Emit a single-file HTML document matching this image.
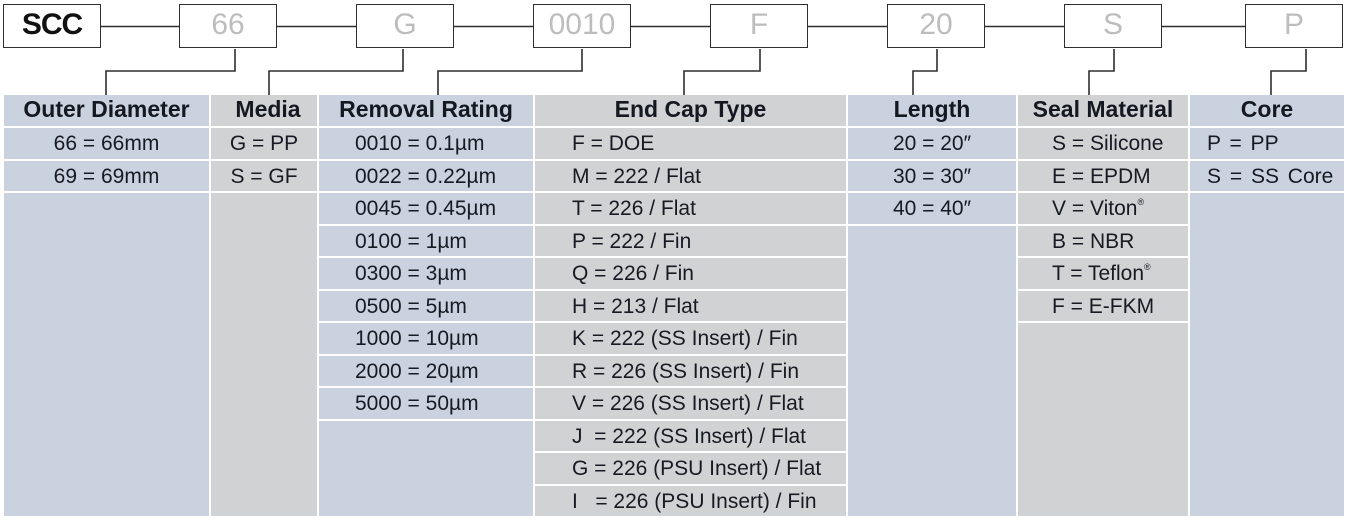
<!DOCTYPE html>
<html>
<head>
<meta charset="utf-8">
<style>
  html, body { margin:0; padding:0; background:#ffffff; }
  body { width:1347px; height:520px; position:relative; overflow:hidden;
         font-family:"Liberation Sans", "DejaVu Sans", sans-serif; color:#161a22; }
  .box { position:absolute; top:4px; width:96px; height:42px; border:1.5px solid #2e2e2e;
         background:#fff; text-align:center; line-height:40px; font-size:30px; color:#bdbdbd; }
  .box.scc { color:#111; font-weight:bold; letter-spacing:-1px; }
  .c { position:absolute; box-sizing:border-box; }
  .b { background:#cbd2df; }
  .g { background:#d1d2d4; }
  .h { top:95px; height:31px; font-weight:bold; font-size:23px; line-height:28px; text-align:center; color:#141820; }
  .d { height:30.5px; font-size:21px; line-height:31px; white-space:nowrap; }
  .ctr { text-align:center; }
  sup { font-size:9px; vertical-align:10px; line-height:0; }
  svg { position:absolute; left:0; top:0; }
</style>
</head>
<body>
<svg width="1347" height="520">
  <g stroke="#2e2e2e" stroke-width="1.6" fill="none">
    <line x1="101" y1="26.5" x2="1246" y2="26.5"/>
    <polyline points="235,49 235,71 106,71 106,95"/>
    <polyline points="403,49 403,71 269,71 269,95"/>
    <polyline points="582,49 582,71 438,71 438,95"/>
    <polyline points="760,49 760,71 684,71 684,95"/>
    <polyline points="937,49 937,71 913,71 913,95"/>
    <polyline points="1114,49 1114,71 1089,71 1089,95"/>
    <polyline points="1306,49 1306,71 1271,71 1271,95"/>
  </g>
</svg>

<div class="box scc" style="left:3px;">SCC</div>
<div class="box" style="left:179px;">66</div>
<div class="box" style="left:356px;">G</div>
<div class="box" style="left:533px;">0010</div>
<div class="box" style="left:710px;">F</div>
<div class="box" style="left:887px;">20</div>
<div class="box" style="left:1064px;">S</div>
<div class="box" style="left:1245px;">P</div>

<!-- Headers -->
<div class="c b h" style="left:4px;width:205px;">Outer Diameter</div>
<div class="c g h" style="left:211px;width:106px;padding-left:8px;">Media</div>
<div class="c b h" style="left:319px;width:214px;">Removal Rating</div>
<div class="c g h" style="left:535px;width:311px;">End Cap Type</div>
<div class="c b h" style="left:848px;width:168px;">Length</div>
<div class="c g h" style="left:1018px;width:170px;">Seal Material</div>
<div class="c b h" style="left:1190px;width:154px;">Core</div>

<!-- Outer Diameter -->
<div class="c b d ctr" style="left:4px;width:205px;top:128px;">66 = 66mm</div>
<div class="c b d ctr" style="left:4px;width:205px;top:160.5px;">69 = 69mm</div>
<div class="c b" style="left:4px;width:205px;top:193px;height:323px;"></div>

<!-- Media -->
<div class="c g d ctr" style="left:211px;width:106px;top:128px;">G = PP</div>
<div class="c g d ctr" style="left:211px;width:106px;top:160.5px;">S = GF</div>
<div class="c g" style="left:211px;width:106px;top:193px;height:323px;"></div>

<!-- Removal Rating -->
<div class="c b d" style="left:319px;width:214px;top:128px;padding-left:36px;">0010 = 0.1µm</div>
<div class="c b d" style="left:319px;width:214px;top:160.5px;padding-left:36px;">0022 = 0.22µm</div>
<div class="c b d" style="left:319px;width:214px;top:193px;padding-left:36px;">0045 = 0.45µm</div>
<div class="c b d" style="left:319px;width:214px;top:225.5px;padding-left:36px;">0100 = 1µm</div>
<div class="c b d" style="left:319px;width:214px;top:258px;padding-left:36px;">0300 = 3µm</div>
<div class="c b d" style="left:319px;width:214px;top:290.5px;padding-left:36px;">0500 = 5µm</div>
<div class="c b d" style="left:319px;width:214px;top:323px;padding-left:36px;">1000 = 10µm</div>
<div class="c b d" style="left:319px;width:214px;top:355.5px;padding-left:36px;">2000 = 20µm</div>
<div class="c b d" style="left:319px;width:214px;top:388px;padding-left:36px;">5000 = 50µm</div>
<div class="c b" style="left:319px;width:214px;top:420.5px;height:95.5px;"></div>

<!-- End Cap Type -->
<div class="c g d" style="left:535px;width:311px;top:128px;padding-left:37px;">F = DOE</div>
<div class="c g d" style="left:535px;width:311px;top:160.5px;padding-left:37px;">M = 222 / Flat</div>
<div class="c g d" style="left:535px;width:311px;top:193px;padding-left:37px;">T = 226 / Flat</div>
<div class="c g d" style="left:535px;width:311px;top:225.5px;padding-left:37px;">P = 222 / Fin</div>
<div class="c g d" style="left:535px;width:311px;top:258px;padding-left:37px;">Q = 226 / Fin</div>
<div class="c g d" style="left:535px;width:311px;top:290.5px;padding-left:37px;">H = 213 / Flat</div>
<div class="c g d" style="left:535px;width:311px;top:323px;padding-left:37px;">K = 222 (SS Insert) / Fin</div>
<div class="c g d" style="left:535px;width:311px;top:355.5px;padding-left:37px;">R = 226 (SS Insert) / Fin</div>
<div class="c g d" style="left:535px;width:311px;top:388px;padding-left:37px;">V = 226 (SS Insert) / Flat</div>
<div class="c g d" style="left:535px;width:311px;top:420.5px;padding-left:37px;">J&nbsp; = 222 (SS Insert) / Flat</div>
<div class="c g d" style="left:535px;width:311px;top:453px;padding-left:37px;">G = 226 (PSU Insert) / Flat</div>
<div class="c g d" style="left:535px;width:311px;top:485.5px;padding-left:37px;">I&nbsp;&nbsp; = 226 (PSU Insert) / Fin</div>

<!-- Length -->
<div class="c b d ctr" style="left:848px;width:168px;top:128px;">20 = 20″</div>
<div class="c b d ctr" style="left:848px;width:168px;top:160.5px;">30 = 30″</div>
<div class="c b d ctr" style="left:848px;width:168px;top:193px;">40 = 40″</div>
<div class="c b" style="left:848px;width:168px;top:225.5px;height:290.5px;"></div>

<!-- Seal Material -->
<div class="c g d" style="left:1018px;width:170px;top:128px;padding-left:34px;">S = Silicone</div>
<div class="c g d" style="left:1018px;width:170px;top:160.5px;padding-left:34px;">E = EPDM</div>
<div class="c g d" style="left:1018px;width:170px;top:193px;padding-left:34px;">V = Viton<sup>®</sup></div>
<div class="c g d" style="left:1018px;width:170px;top:225.5px;padding-left:34px;">B = NBR</div>
<div class="c g d" style="left:1018px;width:170px;top:258px;padding-left:34px;">T = Teflon<sup>®</sup></div>
<div class="c g d" style="left:1018px;width:170px;top:290.5px;padding-left:34px;">F = E-FKM</div>
<div class="c g" style="left:1018px;width:170px;top:323px;height:193px;"></div>

<!-- Core -->
<div class="c b d" style="left:1190px;width:154px;top:128px;padding-left:17px;word-spacing:3px;">P = PP</div>
<div class="c b d" style="left:1190px;width:154px;top:160.5px;padding-left:17px;word-spacing:3px;">S = SS Core</div>
<div class="c b" style="left:1190px;width:154px;top:193px;height:323px;"></div>
</body>
</html>
